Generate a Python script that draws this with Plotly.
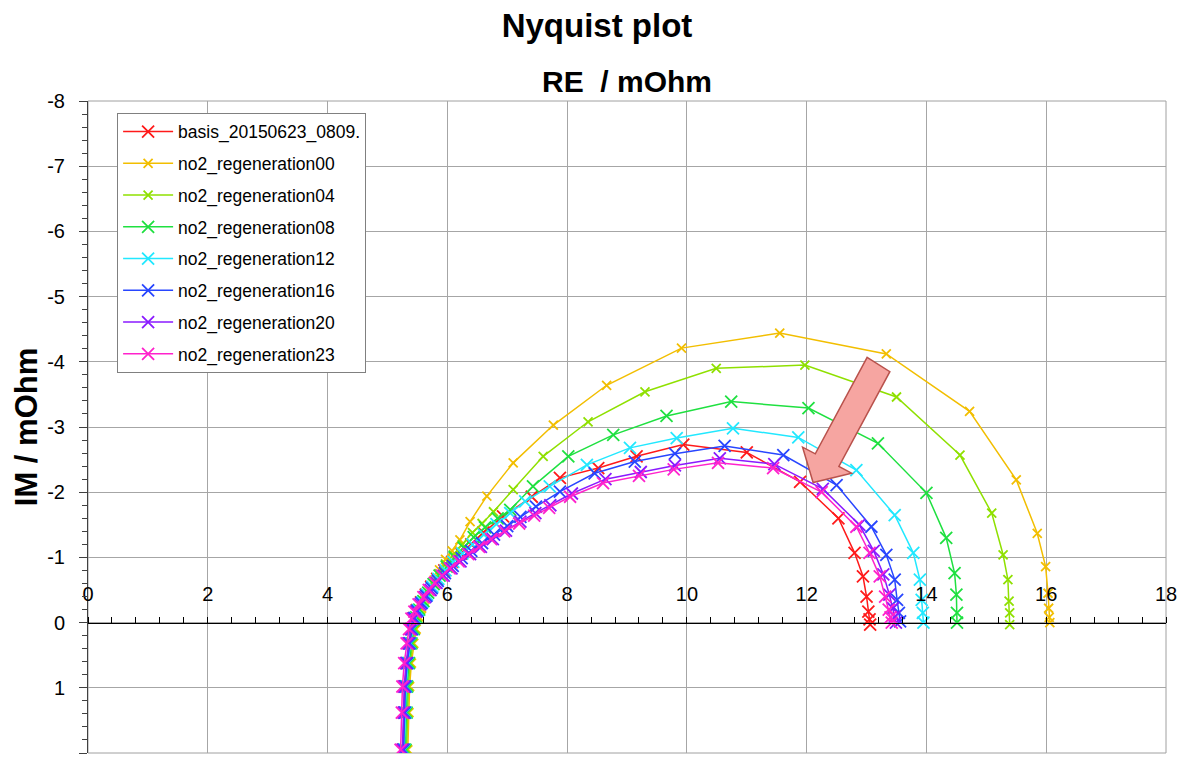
import plotly.graph_objects as go

# Nyquist data (RE / mOhm, IM / mOhm)
names = ["basis_20150623_0809.", "no2_regeneration00", "no2_regeneration04", "no2_regeneration08",
         "no2_regeneration12", "no2_regeneration16", "no2_regeneration20", "no2_regeneration23"]
colors = ["#FF1A1A", "#F2BE00", "#8FE000", "#1FE040", "#22E8FF", "#2846FF", "#8A1AFF", "#FF22CC"]

re_basis = [5.26, 5.28, 5.29, 5.32, 5.36, 5.40, 5.44, 5.49, 5.56, 5.64, 5.73, 5.83, 5.95, 6.08, 6.23, 6.40,
            6.60, 6.93, 7.41, 7.88, 8.52, 9.16, 9.94, 11.00, 11.89, 12.53, 12.80, 12.94, 13.00, 13.03, 13.05, 13.06]
im_basis = [1.95, 1.38, 0.98, 0.62, 0.32, 0.10, -0.07, -0.19, -0.31, -0.43, -0.55, -0.67, -0.80, -0.93, -1.06, -1.20,
            -1.38, -1.63, -1.93, -2.22, -2.37, -2.55, -2.73, -2.61, -2.16, -1.60, -1.07, -0.71, -0.40, -0.17, -0.05, 0.03]

re_reg00 = [5.34, 5.36, 5.37, 5.40, 5.44, 5.48, 5.52, 5.57, 5.63, 5.70, 5.78, 5.87, 5.97, 6.08, 6.21, 6.38,
            6.66, 7.10, 7.77, 8.66, 9.91, 11.55, 13.33, 14.72, 15.50, 15.85, 15.99, 16.03, 16.04, 16.05, 16.06]
im_reg00 = [1.95, 1.38, 0.98, 0.62, 0.32, 0.10, -0.09, -0.22, -0.36, -0.50, -0.65, -0.81, -0.97, -1.10, -1.27, -1.55,
            -1.94, -2.45, -3.03, -3.64, -4.21, -4.44, -4.12, -3.24, -2.19, -1.37, -0.86, -0.45, -0.22, -0.08, 0.00]

re_reg04 = [5.32, 5.34, 5.35, 5.38, 5.42, 5.46, 5.50, 5.55, 5.61, 5.68, 5.76, 5.86, 5.97, 6.10, 6.25, 6.42,
            6.58, 6.77, 7.10, 7.60, 8.35, 9.30, 10.49, 11.97, 13.50, 14.56, 15.09, 15.28, 15.36, 15.38, 15.39, 15.39]
im_reg04 = [1.95, 1.38, 0.98, 0.62, 0.32, 0.10, -0.08, -0.20, -0.33, -0.46, -0.60, -0.75, -0.90, -1.04, -1.20, -1.38,
            -1.52, -1.70, -2.04, -2.55, -3.08, -3.54, -3.90, -3.95, -3.46, -2.57, -1.68, -1.04, -0.66, -0.33, -0.15, 0.03]

re_reg08 = [5.30, 5.32, 5.33, 5.36, 5.40, 5.44, 5.48, 5.53, 5.60, 5.68, 5.77, 5.87, 5.99, 6.12, 6.27, 6.44,
            6.63, 6.84, 7.05, 7.43, 8.02, 8.77, 9.66, 10.74, 12.03, 13.19, 14.00, 14.33, 14.47, 14.50, 14.51, 14.51]
im_reg08 = [1.95, 1.38, 0.98, 0.62, 0.32, 0.10, -0.08, -0.20, -0.33, -0.46, -0.59, -0.72, -0.86, -1.00, -1.15, -1.31,
            -1.46, -1.60, -1.73, -2.09, -2.55, -2.88, -3.17, -3.39, -3.29, -2.75, -1.99, -1.30, -0.76, -0.43, -0.15, 0.00]

re_reg12 = [5.28, 5.30, 5.31, 5.34, 5.38, 5.42, 5.46, 5.51, 5.58, 5.66, 5.75, 5.85, 5.97, 6.10, 6.25, 6.42,
            6.61, 6.82, 7.05, 7.30, 7.71, 8.33, 9.05, 9.83, 10.77, 11.86, 12.83, 13.47, 13.78, 13.89, 13.92, 13.94, 13.95]
im_reg12 = [1.95, 1.38, 0.98, 0.62, 0.32, 0.10, -0.07, -0.19, -0.31, -0.43, -0.55, -0.67, -0.80, -0.93, -1.06, -1.20,
            -1.35, -1.51, -1.68, -1.86, -2.09, -2.42, -2.68, -2.83, -2.98, -2.84, -2.34, -1.65, -1.07, -0.66, -0.35, -0.15, 0.00]

re_reg16 = [5.27, 5.29, 5.30, 5.33, 5.37, 5.41, 5.45, 5.50, 5.57, 5.65, 5.74, 5.84, 5.96, 6.09, 6.24, 6.40,
            6.58, 6.78, 7.00, 7.22, 7.48, 7.88, 8.46, 9.13, 9.80, 10.63, 11.61, 12.50, 13.08, 13.33, 13.47, 13.51, 13.54, 13.56]
im_reg16 = [1.95, 1.38, 0.98, 0.62, 0.32, 0.10, -0.07, -0.18, -0.30, -0.41, -0.53, -0.64, -0.76, -0.87, -0.99, -1.10,
            -1.22, -1.35, -1.48, -1.62, -1.78, -2.01, -2.29, -2.47, -2.59, -2.71, -2.57, -2.11, -1.47, -1.04, -0.66, -0.35, -0.15, -0.02]

re_reg20 = [5.25, 5.27, 5.28, 5.31, 5.35, 5.39, 5.43, 5.48, 5.55, 5.63, 5.72, 5.82, 5.94, 6.07, 6.22, 6.38,
            6.56, 6.76, 6.98, 7.22, 7.47, 7.72, 8.08, 8.64, 9.23, 9.80, 10.55, 11.46, 12.27, 12.88, 13.12, 13.28, 13.38, 13.44, 13.47, 13.49]
im_reg20 = [1.95, 1.38, 0.98, 0.62, 0.32, 0.10, -0.06, -0.17, -0.28, -0.39, -0.50, -0.61, -0.72, -0.83, -0.94, -1.05,
            -1.16, -1.28, -1.41, -1.55, -1.68, -1.80, -1.98, -2.20, -2.31, -2.41, -2.52, -2.43, -2.05, -1.50, -1.10, -0.74, -0.43, -0.22, -0.09, 0.00]

re_reg23 = [5.22, 5.24, 5.25, 5.28, 5.32, 5.36, 5.40, 5.45, 5.52, 5.60, 5.69, 5.79, 5.91, 6.04, 6.19, 6.35,
            6.53, 6.73, 6.95, 7.20, 7.45, 7.70, 8.05, 8.60, 9.20, 9.78, 10.52, 11.44, 12.25, 12.83, 13.05, 13.22, 13.31, 13.37, 13.40, 13.42]
im_reg23 = [1.95, 1.38, 0.98, 0.62, 0.32, 0.10, -0.06, -0.17, -0.28, -0.39, -0.50, -0.61, -0.72, -0.83, -0.94, -1.05,
            -1.16, -1.28, -1.40, -1.52, -1.64, -1.76, -1.93, -2.14, -2.25, -2.35, -2.45, -2.37, -2.00, -1.47, -1.07, -0.71, -0.40, -0.20, -0.08, 0.00]

re_series = [re_basis, re_reg00, re_reg04, re_reg08, re_reg12, re_reg16, re_reg20, re_reg23]
im_series = [im_basis, im_reg00, im_reg04, im_reg08, im_reg12, im_reg16, im_reg20, im_reg23]
marker_sizes = [12, 9, 9, 12, 12, 12, 12, 12]

x_ticks = [0, 2, 4, 6, 8, 10, 12, 14, 16, 18]
y_ticks = [-8, -7, -6, -5, -4, -3, -2, -1, 0, 1, 2]
y_labels = ["-8", "-7", "-6", "-5", "-4", "-3", "-2", "-1", "0", "1", "2"]

# block arrow outline (data coordinates)
arrow_x = [13.010, 13.389, 12.538, 12.750, 12.108, 11.932, 12.144]
arrow_y = [-4.069, -3.848, -2.394, -2.292, -2.149, -2.691, -2.588]

FONT = "Liberation Sans, Arial, sans-serif"

fig = go.Figure()
for i in range(len(names)):
    fig.add_trace(go.Scatter(
        x=re_series[i], y=im_series[i], name=names[i], mode="lines+markers",
        legendgroup=names[i],
        line=dict(color=colors[i], width=1.5),
        marker=dict(symbol="x-thin", size=marker_sizes[i],
                    line=dict(color=colors[i], width=1.8)),
    ))

arrow_path = "M " + " L ".join(f"{x},{y}" for x, y in zip(arrow_x, arrow_y)) + " Z"
fig.add_shape(type="path", path=arrow_path, xref="x", yref="y",
              fillcolor="#F6A5A1", line=dict(color="#B9524C", width=1.5), layer="above")
# plot frame
fig.add_shape(type="rect", xref="paper", yref="paper", x0=0, x1=1, y0=0, y1=1,
              line=dict(color="#A0A0A0", width=1), layer="below")

# page body adds an 8px margin, so the figure is a bit smaller than the window
fig.update_layout(
    width=1178, height=750,
    margin=dict(l=80, r=20, t=93, b=5),
    paper_bgcolor="white", plot_bgcolor="white",
    font=dict(family=FONT, color="black"),
    title=dict(text="<b>Nyquist plot</b>", x=0.5, xref="container", xanchor="center",
               y=0.977, yanchor="middle", font=dict(size=33, family=FONT)),
    legend=dict(x=0.027, y=0.982, xanchor="left", yanchor="top",
                bgcolor="white", bordercolor="#808080", borderwidth=1,
                font=dict(size=17.5, family=FONT), tracegroupgap=6, itemwidth=50),
    showlegend=True,
)
fig.add_annotation(text="<b>RE  / mOhm</b>", x=0.5, y=1, xref="paper", yref="paper",
                   xanchor="center", yanchor="bottom", yshift=1, showarrow=False,
                   font=dict(size=30, family=FONT))

fig.update_xaxes(
    range=[0, 18], tickvals=x_ticks, side="top", anchor="free", position=0.2,
    automargin=False,
    showline=True, linecolor="black", linewidth=1,
    ticks="outside", ticklen=6, tickcolor="black", ticklabelstandoff=8,
    minor=dict(dtick=0.4, ticks="outside", ticklen=6, tickcolor="black", showgrid=False),
    showgrid=True, gridcolor="#A6A6A6", gridwidth=1, zeroline=False,
    tickfont=dict(size=20, family=FONT),
)
fig.update_yaxes(
    range=[2, -8], tickvals=y_ticks, ticktext=y_labels, automargin=False,
    showline=True, linecolor="#404040", linewidth=1,
    ticks="outside", ticklen=8, tickcolor="#404040", ticklabelstandoff=10,
    minor=dict(dtick=0.2, ticks="outside", ticklen=5, tickcolor="#404040", showgrid=False),
    showgrid=True, gridcolor="#A6A6A6", gridwidth=1, zeroline=False,
    tickfont=dict(size=20, family=FONT),
    title=dict(text="<b>IM / mOhm</b>", font=dict(size=31, family=FONT), standoff=0),
)

fig.write_html("out.html")
